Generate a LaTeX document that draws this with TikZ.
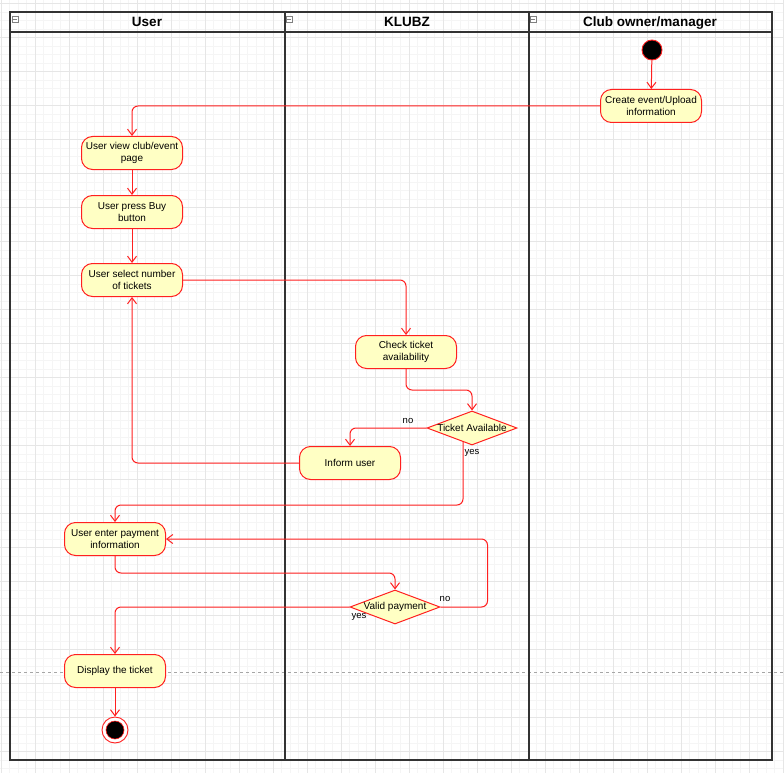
\documentclass[tikz,border=0pt]{standalone}
\usepackage{fontspec}
\setmainfont{Liberation Sans}
\usetikzlibrary{arrows.meta,shapes.geometric,calc}
\definecolor{gridminor}{HTML}{F5F5F5}
\definecolor{gridmajor}{HTML}{E6E6E6}
\definecolor{actfill}{HTML}{FFFFC4}
\definecolor{actred}{HTML}{FF2020}
\definecolor{lanegray}{HTML}{333333}
\tikzset{
  activity/.style={draw=actred, fill=actfill, line width=1pt, rounded corners=11pt,
    minimum width=101pt, minimum height=33pt, align=center, inner sep=1pt,
    font=\fontsize{10}{12}\selectfont},
  decision/.style={draw=actred, fill=actfill, line width=1pt, diamond,
    minimum width=90pt, minimum height=34pt, inner sep=0pt},
  dtext/.style={font=\fontsize{10}{12}\selectfont, inner sep=0pt},
  flow/.style={draw=actred, line width=1pt, rounded corners=6pt,
    -{Straight Barb[length=6pt,width=9pt,line width=1pt]}},
  elabel/.style={font=\fontsize{9.5}{11}\selectfont, inner sep=0pt, text=black},
  lane/.style={draw=lanegray, line width=1.3pt},
  header/.style={font=\bfseries\fontsize{13.5}{15}\selectfont, inner sep=0pt, anchor=base},
  icon/.style={draw=gray, fill=white, line width=0.5pt, minimum size=6pt, inner sep=0pt}
}
\begin{document}
\begin{tikzpicture}[x=1pt,y=-1pt]
\useasboundingbox (0,0) rectangle (784,773);
\clip (0,0) rectangle (784,773);
\fill[white] (0,0) rectangle (784,773);
% grid
\foreach \i in {0,...,92} {\draw[gridminor, line width=0.6pt] ({1+8.5*\i},0) -- ({1+8.5*\i},773);}
\foreach \j in {0,...,91} {\draw[gridminor, line width=0.6pt] (0,{3.7+8.5*\j}) -- (784,{3.7+8.5*\j});}
\foreach \i in {0,...,23} {\draw[gridmajor, line width=0.7pt] ({1+34*\i},0) -- ({1+34*\i},773);}
\foreach \j in {0,...,22} {\draw[gridmajor, line width=0.7pt] (0,{3.7+34*\j}) -- (784,{3.7+34*\j});}
% dashed separator
\draw[gray!70, dashed, dash pattern=on 3pt off 3pt, line width=0.6pt] (0,672) -- (784,672);
% swimlanes
\draw[lane] (10,12) rectangle (772,760);
\draw[lane] (10,32) -- (772,32);
\draw[lane] (285,12) -- (285,760);
\draw[lane] (529,12) -- (529,760);
\node[header] (hUser) at (147,27) {User};
\node[header] (hKlubz) at (407,27) {KLUBZ};
\node[header] (hClub) at (650,27) {Club owner/manager};
\foreach \x/\n in {15/i1,289/i2,533/i3} {
  \node[icon] (\n) at (\x,19) {};
  \draw[gray, line width=0.6pt] ([xshift=1.5pt]\n.west) -- ([xshift=-1.5pt]\n.east);
}
% nodes
\node[circle, draw=actred, fill=black, line width=0.9pt, minimum size=20pt, inner sep=0pt] (start) at (652,50) {};
\node[activity] (create) at (651,106) {Create event/Upload\\information};
\node[activity] (view) at (132,153) {User view club/event\\page};
\node[activity] (press) at (132,212) {User press  Buy\\button};
\node[activity] (select) at (132,280) {User select number\\of tickets};
\node[activity] (check) at (406,352) {Check ticket\\availability};
\node[decision] (d1) at (472,428) {};
\node[dtext] (d1t) at (d1) {Ticket Available};
\node[activity] (inform) at (350,463) {Inform user};
\node[activity] (enter) at (115,539) {User enter payment\\information};
\node[decision] (d2) at (395,607) {};
\node[dtext] (d2t) at (d2) {Valid payment};
\node[activity] (display) at (115,671) {Display the ticket};
\node[circle, draw=actred, fill=white, line width=0.9pt, minimum size=26pt, inner sep=0pt] (end) at (115,730) {};
\node[circle, draw=actred, fill=black, line width=0.6pt, minimum size=18pt, inner sep=0pt] (endin) at (end) {};
\coordinate (y1) at (463,441.6);
% connectors
\draw[flow] (start) -- (create);
\draw[flow] (create.west) -| (view.north);
\draw[flow] (view) -- (press);
\draw[flow] (press) -- (select);
\draw[flow] (select.east) -| (check.north);
\draw[flow] (check.south) -- ++(0,21) -| (d1.north);
\draw[flow] (d1.west) -| (inform.north);
\draw[flow] (inform.west) -| (select.south);
\draw[flow] (y1) |- ($(enter.north)+(0,-17)$) -- (enter.north);
\draw[flow] (enter.south) -- ++(0,17) -| (d2.north);
\draw[flow] (d2.east) -- ++(47,0) |- (enter.east);
\draw[flow] (d2.west) -| (display.north);
\draw[flow] (display.south) -- (end.north);
% labels
\node[elabel] (lno1) at (408,421) {no};
\node[elabel] (lyes1) at (472,453) {yes};
\node[elabel] (lno2) at (445,599) {no};
\node[elabel] (lyes2) at (359,617) {yes};
\end{tikzpicture}
\end{document}
